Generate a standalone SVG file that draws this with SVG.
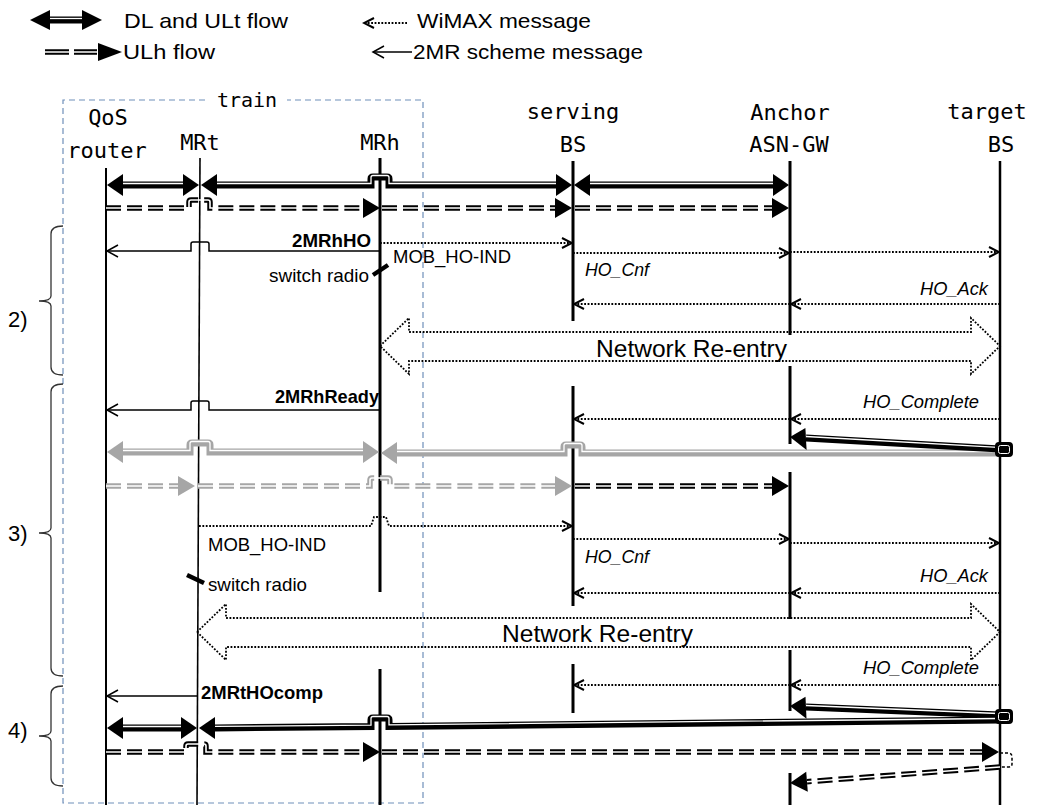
<svg xmlns="http://www.w3.org/2000/svg" width="1042" height="805" viewBox="0 0 1042 805">
<style>
.ll{stroke:#000;fill:none}
.dot{stroke:#000;stroke-width:1.8;stroke-dasharray:1.8 1.6;fill:none}
.msg{stroke:#000;stroke-width:1.5;fill:none}
.thk{stroke:#000;stroke-width:7;fill:none}
.thkg{stroke:#a6a6a6;stroke-width:7;fill:none}
.inner{stroke:#fff;stroke-width:1.3;fill:none}
.dsh{stroke:#000;stroke-width:5.5;stroke-dasharray:15 6;fill:none}
.dshg{stroke:#a6a6a6;stroke-width:5.5;stroke-dasharray:15 6;fill:none}
.dshin{stroke:#fff;stroke-width:1.6;fill:none}
.hd{fill:#000}
.hdg{fill:#a6a6a6}
.lbl{font-family:"Liberation Sans",Arial,sans-serif;font-size:19px;fill:#000}
.b{font-weight:bold}
.i{font-style:italic}
.big{font-size:24px}
.leg{font-family:"Liberation Sans",Arial,sans-serif;font-size:21px;fill:#000}
.hdr{font-family:"DejaVu Sans Mono",monospace;font-size:22px;text-anchor:middle;fill:#000}
.brace{stroke:#333;stroke-width:1.3;fill:none}
.sw{stroke:#000;stroke-width:4.5}
</style>
<defs>
<marker id="oh" viewBox="-12 -7 14 14" refX="0" refY="0" markerWidth="14" markerHeight="14" markerUnits="userSpaceOnUse" orient="auto"><path d="M-10,-5 L0,0 L-10,5" stroke="#000" stroke-width="2" fill="none"/></marker>
<marker id="sh" viewBox="-13 -8 15 16" refX="0" refY="0" markerWidth="15" markerHeight="16" markerUnits="userSpaceOnUse" orient="auto"><path d="M-11,-6 L0,0 L-11,6" stroke="#000" stroke-width="1.5" fill="none"/></marker>
</defs>
<rect width="1042" height="805" fill="#fff"/>

<g id="legend">
  <path class="thk" d="M50,20 H82"/><path class="inner" d="M50,18.5 H82"/>
  <polygon class="hd" points="30,20 50,10 50,30"/><polygon class="hd" points="102,20 82,10 82,30"/>
  <text class="leg" x="124" y="28" textLength="164" lengthAdjust="spacingAndGlyphs">DL and ULt flow</text>
  <path class="dot" d="M407,23 H364" marker-end="url(#oh)"/>
  <text class="leg" x="417" y="28" textLength="174" lengthAdjust="spacingAndGlyphs">WiMAX message</text>
  <path class="dsh" d="M45,52 H97" style="stroke-dasharray:24 5"/><path class="dshin" d="M45,52 H97"/>
  <polygon class="hd" points="122,52 98,43 98,61"/>
  <text class="leg" x="123" y="59" textLength="92" lengthAdjust="spacingAndGlyphs">ULh flow</text>
  <path class="msg" d="M412,52 H373" marker-end="url(#sh)"/>
  <text class="leg" x="413" y="59" textLength="230" lengthAdjust="spacingAndGlyphs">2MR scheme message</text>
</g>

<g id="train">
  <path d="M205,100 H63 V803 H423 V100 H287" stroke="#6f8fba" stroke-width="1.2" stroke-dasharray="6 4" fill="none"/>
  <text class="hdr" x="247" y="107" style="font-size:20px">train</text>
</g>

<g id="brace-2">
  <path class="brace" d="M63,226 Q51,226 51,234 V296 Q51,301 39,301 Q51,301 51,306 V367 Q51,375 63,375"/>
  <text class="leg" x="8" y="327" style="font-size:22px">2)</text>
</g>
<g id="brace-3">
  <path class="brace" d="M63,384 Q51,384 51,392 V528 Q51,533 39,533 Q51,533 51,538 V668 Q51,676 63,676"/>
  <text class="leg" x="8" y="541" style="font-size:22px">3)</text>
</g>
<g id="brace-4">
  <path class="brace" d="M63,686 Q51,686 51,694 V731 Q51,736 39,736 Q51,736 51,741 V778 Q51,786 63,786"/>
  <text class="leg" x="8" y="738" style="font-size:22px">4)</text>
</g>

<g id="node-qos">
  <text class="hdr" x="108" y="125">QoS</text>
  <text class="hdr" x="107" y="158">router</text>
  <path class="ll" stroke-width="2" d="M106,168 V805"/>
</g>
<g id="node-mrt">
  <text class="hdr" x="200" y="150">MRt</text>
  <path class="ll" stroke-width="1.6" d="M200,158 L197,805"/>
</g>
<g id="node-mrh">
  <text class="hdr" x="380" y="150">MRh</text>
  <path class="ll" stroke-width="3" d="M380,158 V592 M380,669 V805"/>
</g>
<g id="node-serving">
  <text class="hdr" x="573" y="119">serving</text>
  <text class="hdr" x="573" y="152">BS</text>
  <path class="ll" stroke-width="3" d="M573,161 V321 M573,386 V606 M573,664 V713"/>
</g>
<g id="node-anchor">
  <text class="hdr" x="790" y="120">Anchor</text>
  <text class="hdr" x="789" y="152">ASN-GW</text>
  <path class="ll" stroke-width="3" d="M790,161 V335 M790,366 V444 M790,472 V619 M790,650 V711 M790,773 V805"/>
</g>
<g id="node-target">
  <text class="hdr" x="987" y="119">target</text>
  <text class="hdr" x="1001" y="152">BS</text>
  <path class="ll" stroke-width="2.5" d="M1000,161 V805"/>
</g>

<g id="connectors">
  <!-- Row A thick DL/ULt -->
  <path class="thk" d="M123,185 H183"/><path class="inner" d="M123,183.5 H183"/>
  <polygon class="hd" points="107,185 123,174 123,196"/><polygon class="hd" points="199,185 183,174 183,196"/>
  <path class="thk" d="M217,185 H371 V179 Q371,177 373,177 H387 Q389,177 389,179 V185 H556"/>
  <path class="inner" transform="translate(0,-1.5)" d="M217,185 H371 V179 Q371,177 373,177 H387 Q389,177 389,179 V185 H556"/>
  <polygon class="hd" points="201,185 217,174 217,196"/><polygon class="hd" points="572,185 556,174 556,196"/>
  <path class="thk" d="M590,185 H773"/><path class="inner" d="M590,183.5 H773"/>
  <polygon class="hd" points="574,185 590,174 590,196"/><polygon class="hd" points="789,185 773,174 773,196"/>

  <!-- Row B dashed ULh -->
  <path class="dsh" d="M106,208 H189 V202 Q189,200 191,200 H208 Q210,200 210,202 V208 H363"/>
  <path class="dshin" d="M106,208 H189 V202 Q189,200 191,200 H208 Q210,200 210,202 V208 H363"/>
  <polygon class="hd" points="380,208 363,198 363,218"/>
  <path class="dsh" d="M382,208 H555"/><path class="dshin" d="M382,208 H555"/>
  <polygon class="hd" points="572,208 555,198 555,218"/>
  <path class="dsh" d="M575,208 H772"/><path class="dshin" d="M575,208 H772"/>
  <polygon class="hd" points="789,208 772,198 772,218"/>

  <!-- Phase 2 -->
  <path class="msg" d="M380,251 H209 V244 Q209,242 207,242 H193 Q191,242 191,244 V251 H107" marker-end="url(#sh)"/>
  <text class="lbl b" x="292" y="247" textLength="79" lengthAdjust="spacingAndGlyphs">2MRhHO</text>
  <path class="dot" d="M380,243 H572" marker-end="url(#oh)"/>
  <text class="lbl" x="393" y="263" textLength="118" lengthAdjust="spacingAndGlyphs">MOB_HO-IND</text>
  <line class="sw" x1="373" y1="275" x2="388" y2="265"/>
  <text class="lbl" x="269" y="282" textLength="100" lengthAdjust="spacingAndGlyphs">switch radio</text>
  <path class="dot" d="M573,253 H789" marker-end="url(#oh)"/>
  <path class="dot" d="M790,252 H999" marker-end="url(#oh)"/>
  <text class="lbl i" x="585" y="276" textLength="64" lengthAdjust="spacingAndGlyphs">HO_Cnf</text>
  <path class="dot" d="M1000,304 H791" marker-end="url(#oh)"/>
  <path class="dot" d="M790,304 H574" marker-end="url(#oh)"/>
  <text class="lbl i" x="920" y="295" textLength="68" lengthAdjust="spacingAndGlyphs">HO_Ack</text>
  <path class="dot" d="M380,346 L409,318 L409,332 L971,332 L971,318 L1000,346 L971,374 L971,361 L409,361 L409,374 Z"/>
  <text class="lbl big" x="596" y="357" textLength="191" lengthAdjust="spacingAndGlyphs">Network Re-entry</text>

  <!-- Phase 3 -->
  <path class="msg" d="M380,410 H209 V403 Q209,401 207,401 H193 Q191,401 191,403 V410 H107" marker-end="url(#sh)"/>
  <text class="lbl b" x="275" y="403" textLength="104" lengthAdjust="spacingAndGlyphs">2MRhReady</text>
  <path class="dot" d="M1000,419 H791" marker-end="url(#oh)"/>
  <path class="dot" d="M790,419 H574" marker-end="url(#oh)"/>
  <text class="lbl i" x="863" y="408" textLength="116" lengthAdjust="spacingAndGlyphs">HO_Complete</text>

  <path class="thkg" d="M1000,453 H582 V447 Q582,445 580,445 H566 Q564,445 564,447 V453 H397"/>
  <path class="inner" transform="translate(0,-1.5)" d="M998,453 H582 V447 Q582,445 580,445 H566 Q564,445 564,447 V453 H397"/>
  <polygon class="hdg" points="381,453 397,442 397,464"/>
  <path class="thkg" d="M123,452 H190 V445 Q190,443 192,443 H208 Q210,443 210,445 V452 H363"/>
  <path class="inner" transform="translate(0,-1.5)" d="M123,452 H190 V445 Q190,443 192,443 H208 Q210,443 210,445 V452 H363"/>
  <polygon class="hdg" points="107,452 123,441 123,463"/><polygon class="hdg" points="379,452 363,441 363,463"/>
  <path class="thk" d="M1000,449 L806,438"/><path class="inner" d="M998,447.4 L806,436.5"/>
  <polygon class="hd" points="790,437 805.4,427.9 806.6,449.9"/>
  <rect x="996" y="443" width="16" height="13" rx="3" fill="#000" stroke="#000" stroke-width="2"/>
  <rect x="998.5" y="445.5" width="11" height="8" rx="2" fill="none" stroke="#fff" stroke-width="1"/>

  <path class="dshg" d="M106,486 H178"/><path class="dshin" d="M106,486 H178"/>
  <polygon class="hdg" points="195,486 178,476 178,496"/>
  <path class="dshg" d="M198,486 H370 V480 Q370,478 372,478 H388 Q390,478 390,480 V486 H555"/>
  <path class="dshin" d="M198,486 H370 V480 Q370,478 372,478 H388 Q390,478 390,480 V486 H555"/>
  <polygon class="hdg" points="572,486 555,476 555,496"/>
  <path class="dsh" d="M575,486 H772"/><path class="dshin" d="M575,486 H772"/>
  <polygon class="hd" points="789,486 772,476 772,496"/>

  <path class="dot" d="M199,526 H371 L374,517 H386 L389,526 H572" marker-end="url(#oh)"/>
  <text class="lbl" x="208" y="551" textLength="118" lengthAdjust="spacingAndGlyphs">MOB_HO-IND</text>
  <path class="dot" d="M573,539 H789" marker-end="url(#oh)"/>
  <path class="dot" d="M790,543 H999" marker-end="url(#oh)"/>
  <text class="lbl i" x="585" y="563" textLength="64" lengthAdjust="spacingAndGlyphs">HO_Cnf</text>
  <path class="dot" d="M1000,593 H791" marker-end="url(#oh)"/>
  <path class="dot" d="M790,593 H574" marker-end="url(#oh)"/>
  <text class="lbl i" x="920" y="582" textLength="68" lengthAdjust="spacingAndGlyphs">HO_Ack</text>
  <line class="sw" x1="187" y1="575" x2="204" y2="583"/>
  <text class="lbl" x="208" y="591" textLength="99" lengthAdjust="spacingAndGlyphs">switch radio</text>
  <path class="dot" d="M197,632 L226,604 L226,618 L971,618 L971,604 L1000,632 L971,660 L971,647 L226,647 L226,660 Z"/>
  <text class="lbl big" x="502" y="642" textLength="191" lengthAdjust="spacingAndGlyphs">Network Re-entry</text>
  <path class="dot" d="M1000,685 H791" marker-end="url(#oh)"/>
  <path class="dot" d="M790,685 H574" marker-end="url(#oh)"/>
  <text class="lbl i" x="863" y="674" textLength="116" lengthAdjust="spacingAndGlyphs">HO_Complete</text>

  <!-- Phase 4 -->
  <path class="msg" d="M198,696 H107" marker-end="url(#sh)"/>
  <text class="lbl b" x="201" y="699" textLength="122" lengthAdjust="spacingAndGlyphs">2MRtHOcomp</text>
  <path class="thk" d="M1000,715 L806,707"/><path class="inner" d="M998,713.5 L806,705.5"/>
  <polygon class="hd" points="790,706 805.5,696.7 806.5,718.7"/>
  <path class="thk" d="M1000,720 L389,726.4 V720 Q389,718 387,718 H373 Q371,718 371,720 V726.6 L215,727.9"/>
  <path class="inner" transform="translate(0,-1.5)" d="M998,720 L389,726.4 V720 Q389,718 387,718 H373 Q371,718 371,720 V726.6 L215,727.9"/>
  <polygon class="hd" points="199,728 215,717 215,739"/>
  <rect x="996" y="710" width="16" height="13" rx="3" fill="#000" stroke="#000" stroke-width="2"/>
  <rect x="998.5" y="712.5" width="11" height="8" rx="2" fill="none" stroke="#fff" stroke-width="1"/>
  <path class="thk" d="M123,728 H181"/><path class="inner" d="M123,726.5 H181"/>
  <polygon class="hd" points="107,728 123,717 123,739"/><polygon class="hd" points="197,728 181,717 181,739"/>

  <path class="dsh" d="M106,752 H186 V746 Q186,744 188,744 H204 Q206,744 206,746 V752 H363"/>
  <path class="dshin" d="M106,752 H186 V746 Q186,744 188,744 H204 Q206,744 206,746 V752 H363"/>
  <polygon class="hd" points="380,752 363,742 363,762"/>
  <path class="dsh" d="M382,752 H982"/><path class="dshin" d="M382,752 H982"/>
  <polygon class="hd" points="999,752 982,742 982,762"/>
  <path d="M1000,753 H1008 Q1012,753 1012,757 V764 Q1012,767 1008,767 H1000" stroke="#000" stroke-width="1.5" stroke-dasharray="3 2" fill="none"/>
  <path class="dsh" d="M1000,767 L807,781.7"/><path class="dshin" d="M1000,767 L807,781.7"/>
  <polygon class="hd" points="790,783 806.2,771.7 807.8,791.7"/>
</g>
</svg>
